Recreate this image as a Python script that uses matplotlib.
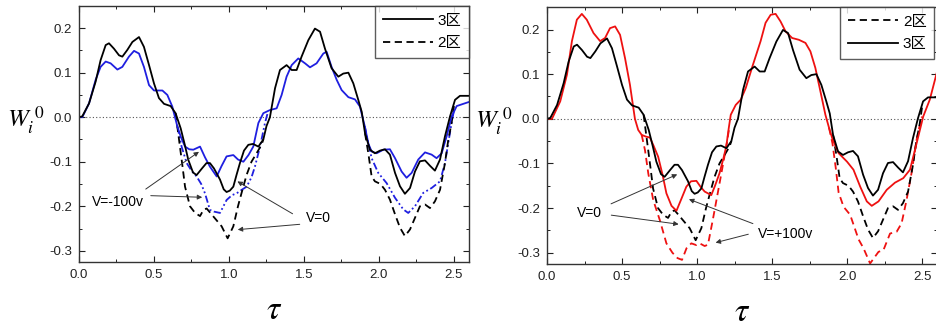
import numpy as np
import matplotlib
matplotlib.use("Agg")
import matplotlib.pyplot as plt
from matplotlib.ticker import MultipleLocator

plt.rcParams['font.family'] = ['Liberation Sans', 'Noto Sans CJK SC', 'DejaVu Sans']
plt.rcParams['mathtext.fontset'] = 'stix'

nan = np.nan

# ---- Zone 3, V=0 (black solid) ----
z3_v0_x = [0.0, 0.022, 0.067, 0.111, 0.144, 0.178, 0.2, 0.233, 0.267, 0.289, 0.322, 0.356, 0.4, 0.433,
           0.467, 0.5, 0.533, 0.567, 0.611, 0.644, 0.678, 0.704, 0.729, 0.76, 0.784, 0.82, 0.85, 0.873,
           0.9, 0.94, 0.965, 0.984, 1.005, 1.029, 1.05, 1.073, 1.1, 1.129, 1.16, 1.196, 1.229, 1.25,
           1.273, 1.307, 1.34, 1.384, 1.418, 1.451, 1.484, 1.529, 1.573, 1.607, 1.64, 1.684, 1.729,
           1.762, 1.796, 1.829, 1.862, 1.885, 1.907, 1.94, 1.973, 2.007, 2.04, 2.073, 2.107, 2.14,
           2.173, 2.207, 2.24, 2.273, 2.307, 2.34, 2.373, 2.407, 2.44, 2.473, 2.507, 2.54, 2.607]
z3_v0_y = [0.0, 0.002, 0.031, 0.08, 0.128, 0.162, 0.166, 0.154, 0.139, 0.136, 0.151, 0.169, 0.18, 0.158,
           0.117, 0.076, 0.043, 0.03, 0.025, 0.009, -0.025, -0.06, -0.096, -0.124, -0.13, -0.115, -0.103, -0.103,
           -0.115, -0.14, -0.162, -0.168, -0.165, -0.156, -0.13, -0.103, -0.075, -0.062, -0.06, -0.066, -0.05, -0.02,
           0.0, 0.065, 0.106, 0.117, 0.106, 0.106, 0.136, 0.173, 0.199, 0.192, 0.154, 0.11, 0.091,
           0.098, 0.1, 0.076, 0.039, 0.012, -0.036, -0.073, -0.081, -0.075, -0.072, -0.084, -0.125, -0.155,
           -0.172, -0.159, -0.122, -0.099, -0.097, -0.109, -0.12, -0.095, -0.043, 0.001, 0.039, 0.048, 0.048]

# ---- Zone 2, V=0 (black dashed; only where it departs from zone 3) ----
z2_v0_x = [0.644, 0.673, 0.69, 0.707, 0.74, 0.774, 0.807, 0.83, 0.851, 0.896, 0.951, 0.991, 1.029, 1.06,
           1.084, 1.117, 1.15, 1.184, 1.217, 1.229, nan,
           1.907, 1.929, 1.951, 1.973, 2.01, 2.04, 2.073, 2.107, 2.14, 2.173, 2.207, 2.24, 2.273, 2.307,
           2.34, 2.373, 2.407, 2.44, 2.462, 2.484, 2.5]
z2_v0_y = [0.009, -0.066, -0.11, -0.156, -0.2, -0.215, -0.222, -0.208, -0.205, -0.223, -0.245, -0.272, -0.245, -0.2,
           -0.17, -0.13, -0.1, -0.081, -0.062, -0.05, nan,
           -0.036, -0.081, -0.133, -0.144, -0.15, -0.163, -0.185, -0.218, -0.248, -0.267, -0.252, -0.226, -0.2, -0.196,
           -0.204, -0.189, -0.163, -0.103, -0.051, -0.013, 0.025]

# ---- Zone 3, V=-100v (blue solid) ----
z3_m100_x = [0.0, 0.022, 0.067, 0.111, 0.144, 0.178, 0.211, 0.256, 0.289, 0.333, 0.367, 0.4, 0.433, 0.467,
             0.5, 0.556, 0.589, 0.622, 0.656, 0.68, 0.707, 0.735, 0.762, 0.807, 0.84, 0.873, 0.918, 0.95,
             0.984, 1.029, 1.06, 1.096, 1.13, 1.162, 1.196, 1.229, 1.273, 1.318, 1.351, 1.384, 1.418, 1.462,
             1.507, 1.54, 1.584, 1.629, 1.651, 1.684, 1.718, 1.751, 1.796, 1.84, 1.873, 1.905, 1.93, 1.951,
             1.984, 2.029, 2.073, 2.107, 2.151, 2.184, 2.218, 2.262, 2.307, 2.351, 2.384, 2.418, 2.451,
             2.484, 2.518, 2.562, 2.607]
z3_m100_y = [0.0, 0.0, 0.031, 0.084, 0.113, 0.125, 0.121, 0.107, 0.113, 0.136, 0.149, 0.143, 0.113, 0.072,
             0.06, 0.06, 0.05, 0.024, -0.021, -0.045, -0.066, -0.072, -0.073, -0.066, -0.09, -0.111, -0.133, -0.11,
             -0.088, -0.085, -0.095, -0.1, -0.085, -0.066, -0.013, 0.009, 0.016, 0.02, 0.05, 0.091, 0.117, 0.132,
             0.121, 0.112, 0.121, 0.143, 0.147, 0.113, 0.084, 0.061, 0.045, 0.04, 0.024, -0.02, -0.06, -0.077,
             -0.081, -0.073, -0.072, -0.092, -0.122, -0.136, -0.125, -0.095, -0.079, -0.084, -0.092, -0.081, -0.043,
             0.001, 0.025, 0.03, 0.035]

# ---- Zone 2, V=-100v (blue dash-dot; only where it departs) ----
z2_m100_x = [0.656, 0.684, 0.718, 0.75, 0.784, 0.815, 0.84, 0.873, 0.9, 0.94, 0.984, 1.02, 1.051, 1.085,
             1.118, 1.15, 1.173, 1.207, 1.24, 1.26, nan,
             1.905, 1.929, 1.951, 1.995, 2.051, 2.107, 2.162, 2.195, 2.24, 2.295, 2.351, 2.407, 2.44, 2.462,
             2.484, 2.5]
z2_m100_y = [-0.021, -0.066, -0.103, -0.12, -0.133, -0.15, -0.171, -0.208, -0.212, -0.215, -0.186, -0.175, -0.171, -0.163,
             -0.156, -0.135, -0.111, -0.066, -0.013, 0.012, nan,
             -0.02, -0.058, -0.092, -0.125, -0.148, -0.181, -0.207, -0.215, -0.2, -0.17, -0.159, -0.144, -0.103, -0.058,
             -0.013, 0.015]

# ---- Zone 3, V=+100v (red solid) ----
z3_p100_x = [0.0, 0.033, 0.088, 0.133, 0.166, 0.199, 0.232, 0.265, 0.31, 0.354, 0.387, 0.42, 0.454, 0.487,
             0.52, 0.553, 0.586, 0.608, 0.631, 0.66, 0.686, 0.71, 0.741, 0.77, 0.796, 0.83, 0.863, 0.895,
             0.929, 0.96, 0.996, 1.025, 1.051, 1.095, 1.12, 1.15, 1.175, 1.195, 1.212, 1.225, 1.258, 1.292,
             1.325, 1.369, 1.424, 1.457, 1.491, 1.524, 1.557, 1.59, 1.634, 1.679, 1.723, 1.756, 1.789, 1.823,
             1.856, 1.88, 1.903, 1.944, 2.0, 2.043, 2.088, 2.132, 2.165, 2.21, 2.265, 2.32, 2.375, 2.42,
             2.464, 2.508, 2.552, 2.6]
z3_p100_y = [0.0, 0.0, 0.039, 0.099, 0.174, 0.222, 0.235, 0.222, 0.192, 0.174, 0.181, 0.203, 0.207, 0.188,
             0.136, 0.076, 0.0, -0.025, -0.036, -0.04, -0.042, -0.06, -0.085, -0.125, -0.167, -0.195, -0.206, -0.18,
             -0.152, -0.14, -0.139, -0.153, -0.163, -0.171, -0.15, -0.122, -0.09, -0.062, -0.02, 0.009, 0.031, 0.043,
             0.069, 0.117, 0.174, 0.215, 0.233, 0.235, 0.218, 0.196, 0.181, 0.177, 0.17, 0.151, 0.114, 0.061,
             0.009, -0.02, -0.045, -0.077, -0.096, -0.114, -0.152, -0.185, -0.195, -0.185, -0.159, -0.143, -0.133, -0.114,
             -0.055, 0.005, 0.043, 0.105]

# ---- Zone 2, V=+100v (red dashed; only where it departs) ----
z2_p100_x = [0.631, 0.653, 0.675, 0.708, 0.752, 0.796, 0.836, 0.87, 0.9, 0.93, 0.962, 0.996, 1.018, 1.051,
             1.073, 1.106, 1.15, 1.195, 1.215, nan,
             1.88, 1.903, 1.925, 1.944, 1.977, 2.021, 2.077, 2.11, 2.154, 2.21, 2.243, 2.287, 2.331, 2.364,
             2.397, 2.43, 2.464, 2.486, 2.5]
z2_p100_y = [-0.036, -0.07, -0.122, -0.182, -0.227, -0.279, -0.3, -0.312, -0.316, -0.29, -0.279, -0.283, -0.279, -0.285,
             -0.282, -0.225, -0.145, -0.062, -0.02, nan,
             -0.02, -0.055, -0.11, -0.165, -0.197, -0.215, -0.27, -0.29, -0.324, -0.298, -0.294, -0.257, -0.253, -0.234,
             -0.182, -0.122, -0.047, -0.013, 0.005]

x_ticks = [0.0, 0.5, 1.0, 1.5, 2.0, 2.5]
y_ticks = [-0.3, -0.2, -0.1, 0.0, 0.1, 0.2]
label_z3 = "3区"
label_z2 = "2区"

fig = plt.figure(figsize=(9.37, 3.27), dpi=100)
ax1 = fig.add_axes([0.0843, 0.199, 0.4162, 0.783])
ax2 = fig.add_axes([0.5838, 0.193, 0.4162, 0.785])

lw = 1.3
blue = '#1f1fe0'
red = '#ee1111'
dash = (0, (4, 2.5))


def style(ax):
    ax.set_xlim(0, 2.6)
    ax.set_ylim(-0.325, 0.25)
    ax.set_xticks(x_ticks)
    ax.set_yticks(y_ticks)
    ax.xaxis.set_minor_locator(MultipleLocator(0.25))
    ax.yaxis.set_minor_locator(MultipleLocator(0.05))
    ax.set_xticklabels([f"{v:.1f}" for v in x_ticks])
    ax.set_yticklabels([f"{v:.1f}" for v in y_ticks])
    ax.tick_params(which='both', direction='in', top=True, right=True, labelsize=9.5, colors='#222222')
    ax.tick_params(which='major', length=4, width=0.8, pad=5)
    ax.tick_params(which='minor', length=2.5, width=0.7)
    for s in ax.spines.values():
        s.set_linewidth(1.0)
        s.set_color('#333333')
    ax.axhline(0, color='#555555', lw=0.8, ls=(0, (1, 2)), zorder=0)
    ax.set_xlabel(r'$\tau$', fontsize=24, labelpad=10)
    ax.text(-0.135, 0.555, r'$W_i^{\ 0}$', transform=ax.transAxes, fontsize=18,
            ha='center', va='center')


aprops = dict(arrowstyle='-|>', color='#333333', lw=0.7, mutation_scale=7)

# Left panel
ax1.plot(z2_m100_x, z2_m100_y, color=blue, lw=lw, ls=(0, (4, 1.5, 1, 1.5, 1, 1.5)))
l2, = ax1.plot(z2_v0_x, z2_v0_y, color='black', lw=lw, ls=dash)
ax1.plot(z3_m100_x, z3_m100_y, color=blue, lw=lw)
l3, = ax1.plot(z3_v0_x, z3_v0_y, color='black', lw=lw)
style(ax1)
leg1 = ax1.legend([l3, l2], [label_z3, label_z2], loc='upper right', fontsize=11, frameon=True,
                  fancybox=False, edgecolor='#333333', handlelength=3.3, borderaxespad=0.0,
                  handletextpad=0.3, borderpad=0.5, labelspacing=0.55)
leg1.get_frame().set_linewidth(1.0)

ax1.text(0.087, -0.19, 'V=-100v', fontsize=10, ha='left', va='center')
ax1.annotate('', xy=(0.815, -0.074), xytext=(0.43, -0.165), arrowprops=aprops)
ax1.annotate('', xy=(0.84, -0.18), xytext=(0.46, -0.176), arrowprops=aprops)
ax1.text(1.51, -0.227, 'V=0', fontsize=10, ha='left', va='center')
ax1.annotate('', xy=(1.04, -0.141), xytext=(1.44, -0.22), arrowprops=aprops)
ax1.annotate('', xy=(1.04, -0.253), xytext=(1.49, -0.24), arrowprops=aprops)

# Right panel
ax2.plot(z2_p100_x, z2_p100_y, color=red, lw=lw, ls=dash)
r2, = ax2.plot(z2_v0_x, z2_v0_y, color='black', lw=lw, ls=dash)
ax2.plot(z3_p100_x, z3_p100_y, color=red, lw=lw)
r3, = ax2.plot(z3_v0_x, z3_v0_y, color='black', lw=lw)
style(ax2)
leg2 = ax2.legend([r2, r3], [label_z2, label_z3], loc='upper right', bbox_to_anchor=(0.993, 1.0),
                  fontsize=11, frameon=True, fancybox=False, edgecolor='#333333',
                  handlelength=3.3, borderaxespad=0.0, handletextpad=0.3, borderpad=0.5, labelspacing=0.55)
leg2.get_frame().set_linewidth(1.0)

ax2.text(0.2, -0.212, 'V=0', fontsize=10, ha='left', va='center')
ax2.annotate('', xy=(0.885, -0.122), xytext=(0.41, -0.193), arrowprops=aprops)
ax2.annotate('', xy=(0.896, -0.237), xytext=(0.41, -0.215), arrowprops=aprops)
ax2.text(1.405, -0.257, 'V=+100v', fontsize=10, ha='left', va='center')
ax2.annotate('', xy=(0.929, -0.178), xytext=(1.39, -0.237), arrowprops=aprops)
ax2.annotate('', xy=(1.106, -0.279), xytext=(1.36, -0.257), arrowprops=aprops)

fig.savefig('out.png', dpi=100)
